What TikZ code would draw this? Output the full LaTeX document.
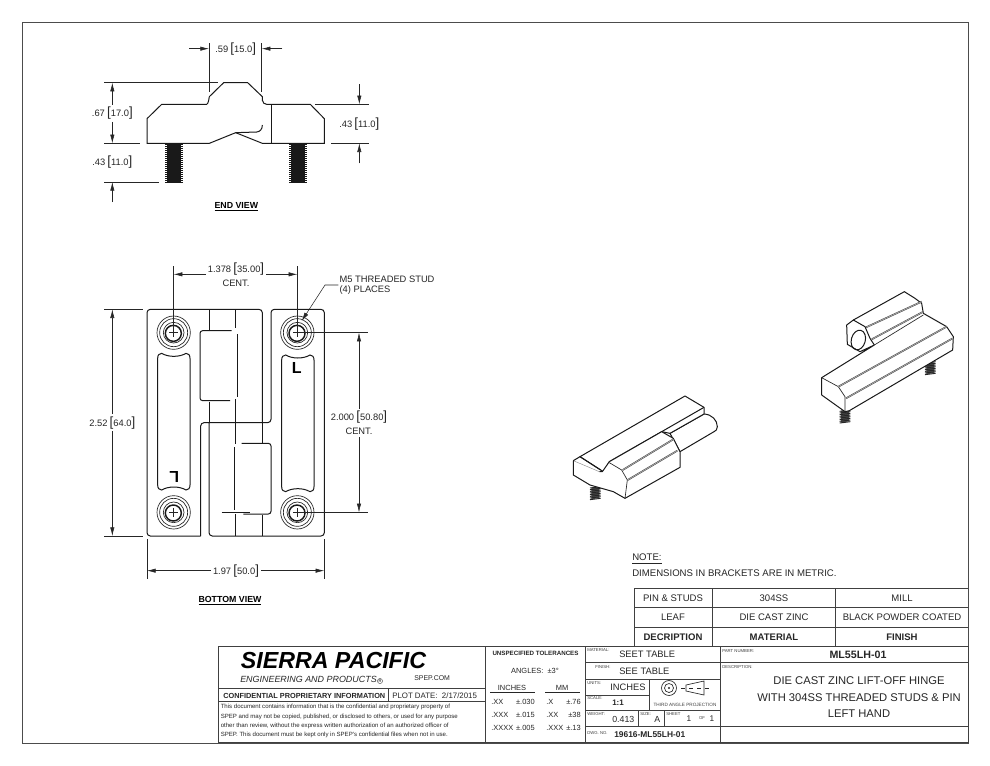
\documentclass[tikz,border=0pt]{standalone}
\usepackage{fontspec}
\setmainfont{Liberation Sans}
\usetikzlibrary{arrows.meta}
\newcommand{\dimlab}[2]{#1{\fontsize{10}{10}\selectfont\,[}#2{\fontsize{10}{10}\selectfont]}}
\newcommand{\fs}[1]{\fontsize{#1}{#1}\selectfont}
\tikzset{
    partline/.style={line width=0.75pt,black!90},
    thinpart/.style={line width=0.5pt,black!85},
    ridge/.style={line width=0.35pt,black!75,double=black!30,double distance=0.5pt},
    extline/.style={line width=0.4pt,black!85},
    dimarrow/.style={line width=0.4pt,black!85,-{Latex[length=6.5pt,width=3.2pt]}},
    dimtext/.style={font=\fs{7},inner sep=1.5pt,align=center,text=black!85},
    viewtitle/.style={font=\fs{6.6}\bfseries,inner sep=0pt},
    titleline/.style={line width=0.55pt,black!75},
    cell/.style={font=\fs{7.15},inner sep=0pt,text=black!85},
    cellbold/.style={cell,font=\fs{7.15}\bfseries},
    tiny/.style={font=\fs{3.2},inner sep=0pt,text=black!75},
    threads/.pic={
        \fill[black!90] (-22,0) rectangle (22,118);
        \foreach \t in {0,6,...,114}
            \draw[line width=0.75pt,black!90] (-26,\t+3) -- (26,\t+3);
    },
    smallthreads/.pic={
        \fill[black!70] (-12,0) -- (12,0) -- (12,32) -- (-12,36) -- cycle;
        \foreach \t in {0,5,...,35}
            \draw[line width=0.7pt,black!85] (-16,\t+2) -- (16,\t-2);
    },
    studend/.pic={
        \draw[thinpart] (0,0) circle [radius=50];
        \draw[thinpart] (0,0) circle [radius=42];
        \draw[thinpart] (0,0) circle [radius=31];
        \draw[line width=1.1pt,black!90] (-1,2) circle [radius=24];
        \draw[extline] (-13,0) -- (13,0) (0,-13) -- (0,13);
    },
    slotcut/.pic={
        \draw[partline] (0,15) .. controls (0,5) and (5,0) .. (12,0)
            .. controls (32,12) and (65,12) .. (85,0)
            .. controls (92,0) and (97,5) .. (97,15) -- (97,395)
            .. controls (97,405) and (92,410) .. (85,410)
            .. controls (65,398) and (32,398) .. (12,410)
            .. controls (5,410) and (0,405) .. (0,395) -- cycle;
    }
}
\begin{document}
\begin{tikzpicture}[x=0.75pt,y=-0.75pt]
    \useasboundingbox (0,0) rectangle (990,765);
    \fill[white] (0,0) rectangle (990,765);
    \draw[line width=0.6pt,black!70] (22,22) rectangle (968,743);

    % end view
    \begin{scope}[shift={(80,30)},x=0.25pt,y=-0.25pt]
        \pic at (282,340) {threads};
        \pic at (654,340) {threads};
        \draw[partline,fill=white] (201,340) -- (201,266) -- (245,223) -- (380,223)
            .. controls (386,220) and (386,208) .. (388,200)
            -- (431,158) -- (503,158) -- (547,200) -- (547,285)
            .. controls (547,298) and (540,305) .. (530,306)
            -- (467,308) -- (388,340) -- cycle;
        \draw[partline,fill=white] (467,308) -- (547,340) -- (733,340) -- (733,266)
            -- (691,223) -- (560,223) .. controls (552,223) and (549,218) .. (547,210);
        \draw[partline] (573,223) -- (573,340);
        \draw[partline] (547,285) .. controls (547,298) and (540,305) .. (530,306) -- (467,308);

        \node[dimtext] (dimTop) at (467,56) {\dimlab{.59}{15.0}};
        \node[dimtext] (dimHigh) at (97,250) {\dimlab{.67}{17.0}};
        \node[dimtext] (dimStudL) at (97,397) {\dimlab{.43}{11.0}};
        \node[dimtext] (dimLow) at (838,283) {\dimlab{.43}{11.0}};
        \node[viewtitle] (endTitle) at (469,531) {\underline{END VIEW}};

        \draw[extline] (387,40) -- (387,185);
        \draw[extline] (545,40) -- (545,185);
        \draw[dimarrow] (328,56) -- (387,56);
        \draw[dimarrow] (607,56) -- (545,56);
        \draw[extline] (72,158) -- (413,158);
        \draw[extline] (72,340) -- (181,340);
        \draw[dimarrow] (dimHigh.north) -- (97,158);
        \draw[dimarrow] (dimHigh.south) -- (97,340);
        \draw[extline] (72,456) -- (237,456);
        \draw[dimarrow] (97,516) -- (97,456);
        \draw[extline] (706,223) -- (868,223);
        \draw[extline] (753,340) -- (868,340);
        \draw[dimarrow] (838,163) -- (838,223);
        \draw[dimarrow] (838,400) -- (838,340);
    \end{scope}

    % bottom view
    \begin{scope}[shift={(80,260)},x=0.25pt,y=-0.25pt]
        \draw[partline,rounded corners=2.5pt] (362,828) -- (201,828) -- (201,148) -- (547,148) -- (547,490);
        \draw[partline,rounded corners=2.5pt] (362,828) -- (362,488) -- (573,488) -- (573,148) -- (733,148)
            -- (733,828) -- (387,828) -- (387,488);
        \draw[partline] (387,148) -- (387,210);
        \draw[partline] (387,425) -- (387,488);
        \draw[partline] (467,148) -- (467,205);
        \draw[partline] (467,418) -- (467,552);
        \draw[partline] (547,490) -- (547,550);
        \draw[partline] (547,765) -- (547,828);
        \draw[partline] (467,762) -- (467,828);
        % upper pocket
        \draw[partline,rounded corners=2pt] (455,212) -- (360,212) -- (360,422) -- (450,422);
        \draw[partline] (472,222) -- (472,410);
        % lower pocket
        \draw[partline,rounded corners=2pt] (485,550) -- (573,550) -- (573,762) -- (490,762);
        \draw[partline] (425,758) -- (510,758);
        \draw[partline] (462,562) -- (462,750);

        \pic at (281,218) {studend};
        \pic at (652,218) {studend};
        \pic at (281,757) {studend};
        \pic at (652,757) {studend};
        \pic at (233,280) {slotcut};
        \pic at (605,285) {slotcut};

        \node[font=\fs{12}\bfseries,inner sep=0pt] (markR) at (650,323) {L};
        \node[font=\fs{12}\bfseries,inner sep=0pt,rotate=180] (markL) at (283,652) {L};

        \node[dimtext] (dimCentA) at (468,28) {\dimlab{1.378}{35.00}};
        \node[dimtext,anchor=north] (centA) at (468,52) {CENT.};
        \node[dimtext] (dimCentB) at (837,472) {\dimlab{2.000}{50.80}};
        \node[dimtext,anchor=north] (centB) at (837,497) {CENT.};
        \node[dimtext] (dimTall) at (97,488) {\dimlab{2.52}{64.0}};
        \node[dimtext] (dimWide) at (468,932) {\dimlab{1.97}{50.0}};
        \node[dimtext,anchor=west,align=left,inner sep=0pt] (studA) at (778,59) {M5 THREADED STUD};
        \node[dimtext,anchor=west,align=left,inner sep=0pt] (studB) at (778,91) {(4) PLACES};
        \node[viewtitle] (bottomTitle) at (450,1022) {\underline{BOTTOM VIEW}};
        \coordinate (studTip) at (665,183);

        \draw[extline] (281,18) -- (281,205);
        \draw[extline] (652,18) -- (652,205);
        \draw[dimarrow] (dimCentA.west |- 0,43) -- (281,43);
        \draw[dimarrow] (dimCentA.east |- 0,43) -- (652,43);
        \draw[dimarrow] (775,75) -- (735,75) -- (studTip);
        \draw[extline] (665,218) -- (865,218);
        \draw[extline] (665,757) -- (865,757);
        \draw[dimarrow] (dimCentB.north -| 837,440) -- (837,218);
        \draw[dimarrow] (centB.south) -- (837,757);
        \draw[extline] (72,148) -- (190,148);
        \draw[extline] (72,828) -- (190,828);
        \draw[dimarrow] (dimTall.north) -- (97,148);
        \draw[dimarrow] (dimTall.south) -- (97,828);
        \draw[extline] (201,838) -- (201,958);
        \draw[extline] (733,838) -- (733,958);
        \draw[dimarrow] (dimWide.west) -- (201,932);
        \draw[dimarrow] (dimWide.east) -- (733,932);
    \end{scope}

    % left hinge leaf, iso view
    \begin{scope}[shift={(560,380)},x=0.25pt,y=-0.25pt]
        \pic at (106,322) {smallthreads};
        \draw[partline,fill=white,line join=round] (432,102) .. controls (455,103) and (472,120) .. (472,140)
            .. controls (472,148) and (468,153) .. (462,155) -- (360,215) -- (330,160) -- cycle;
        \draw[partline,fill=white,line join=round] (60,230) -- (375,48) -- (432,82) -- (432,102) -- (330,160)
            -- (305,155) -- (148,245) -- (130,275) -- cycle;
        \draw[partline,fill=white,line join=round] (40,242) -- (40,285) -- (90,315) -- (160,335) -- (195,355)
            -- (360,262) -- (360,215) -- (340,175) -- (305,155) -- (148,245) -- (127,275) -- (118,275);
        \draw[line width=0.35pt,black!45] (118,275) -- (40,242);
        \draw[partline] (40,242) -- (60,230) -- (122,270);
        \draw[partline] (305,155) -- (432,82);
        \draw[thinpart] (148,248) -- (185,270) -- (202,300) -- (195,355);
        \draw[ridge] (188,270) -- (340,178);
        \draw[ridge] (203,300) -- (352,212);
    \end{scope}

    % right hinge leaf, iso view
    \begin{scope}[shift={(810,280)},x=0.25pt,y=-0.25pt]
        \pic at (105,392) {smallthreads};
        \pic at (361,247) {smallthreads};
        \draw[partline,fill=white,line join=round] (35,293) -- (35,345) -- (105,395) -- (118,392) -- (428,210)
            -- (430,170) -- (410,140) -- (340,100) -- (335,70) -- (315,55) -- (283,35) -- (130,120) -- (110,135)
            -- (112,193) -- (150,215) -- (193,195) -- cycle;
        \draw[partline] (130,120) -- (165,140) -- (180,175) -- (193,195);
        \draw[partline,rotate around={-15:(145,180)}] (145,180) ellipse [x radius=21,y radius=30];
        \draw[thinpart] (35,293) -- (85,320) -- (105,350) -- (105,395);
        \draw[thinpart] (193,195) -- (340,105);
        \draw[ridge] (85,320) -- (410,140);
        \draw[ridge] (108,355) -- (428,175);
        \draw[ridge] (168,142) -- (335,65);
        \draw[ridge] (185,178) -- (340,95);
    \end{scope}

    % note
    \node[cell,font=\fs{7.2},anchor=west] (noteHead) at (632,559) {\underline{NOTE:}};
    \node[cell,font=\fs{7.2},anchor=west] (noteBody) at (632,573) {DIMENSIONS IN BRACKETS ARE IN METRIC.};

    % material table
    \draw[titleline] (634,588.5) -- (968,588.5) (634,607.5) -- (968,607.5) (634,627.5) -- (968,627.5);
    \draw[titleline] (634,588.5) -- (634,646.5) (712.7,588.5) -- (712.7,646.5) (835.7,588.5) -- (835.7,646.5);
    \node[cell] (rowA1) at (673,598) {PIN \& STUDS};
    \node[cell] (rowA2) at (774,598) {304SS};
    \node[cell] (rowA3) at (902,598) {MILL};
    \node[cell] (rowB1) at (673,617.5) {LEAF};
    \node[cell] (rowB2) at (774,617.5) {DIE CAST ZINC};
    \node[cell] (rowB3) at (902,617.5) {BLACK POWDER COATED};
    \node[cellbold] (rowC1) at (673,637) {DECRIPTION};
    \node[cellbold] (rowC2) at (774,637) {MATERIAL};
    \node[cellbold] (rowC3) at (902,637) {FINISH};

    % title block
    \draw[titleline] (218,646.5) rectangle (968,742.5);
    \draw[titleline] (218,688.5) -- (485,688.5) (218,701.5) -- (485,701.5) (388,688.5) -- (388,701.5);
    \draw[titleline] (485,646.5) -- (485,742.5) (585,646.5) -- (585,742.5) (720,646.5) -- (720,742.5);
    \draw[titleline] (585,662.7) -- (968,662.7) (585,679.3) -- (720,679.3) (585,695) -- (649,695);
    \draw[titleline] (585,710) -- (720,710) (585,726.5) -- (968,726.5);
    \draw[titleline] (649,679.3) -- (649,710) (638.5,710) -- (638.5,726.5) (664.5,710) -- (664.5,726.5);

    \node[font=\fs{17.4}\bfseries\itshape,inner sep=0pt] (company) at (333.5,661) {SIERRA PACIFIC};
    \node[font=\fs{6.7}\itshape,inner sep=0pt,anchor=west,text=black!85] (companySub) at (240,679) {ENGINEERING AND PRODUCTS};
    \node[font=\fs{3},draw=black!70,circle,inner sep=0.3pt,line width=0.3pt] (regMark) at (380,681) {R};
    \node[cell,font=\fs{5.2},anchor=west] (website) at (414,678.5) {SPEP.COM};
    \node[cellbold,font=\fs{5.5}\bfseries,anchor=west] (confHead) at (223,695.5) {CONFIDENTIAL PROPRIETARY INFORMATION};
    \node[cell,font=\fontsize{4.55}{7}\selectfont,anchor=north west,align=left,inner sep=0pt] (confBody) at (220.5,704) {This document contains information that is the confidential and proprietary property of\\SPEP and may not be copied, published, or disclosed to others, or used for any purpose\\other than review, without the express written authorization of an authorized officer of\\SPEP. This document must be kept only in SPEP's confidential files when not in use.};
    \node[cell,font=\fs{5.9},anchor=west] (plotDate) at (392,695.5) {PLOT DATE:\ \ 2/17/2015};

    \node[cellbold,font=\fs{4.65}\bfseries] (tolHead) at (535.5,653.5) {UNSPECIFIED TOLERANCES};
    \node[cell,font=\fs{5.6}] (tolAngle) at (535,670.5) {ANGLES:\ \ ±3°};
    \node[cell,font=\fs{5.6}] (tolIn) at (512,688) {INCHES};
    \node[cell,font=\fs{5.6}] (tolMm) at (562,688) {MM};
    \draw[extline] (490,692) -- (535,692) (545,692) -- (580,692);
    \foreach \rowy/\ina/\inb/\mma/\mmb [count=\i] in {701.5/.XX/±.030/.X/±.76,714.5/.XXX/±.015/.XX/±38,727.5/.XXXX/±.005/.XXX/±.13}{
        \node[cell,font=\fs{5.6},anchor=west] (tolA\i) at (491,\rowy) {\ina};
        \node[cell,font=\fs{5.6},anchor=east] (tolB\i) at (535,\rowy) {\inb};
        \node[cell,font=\fs{5.6},anchor=west] (tolC\i) at (546,\rowy) {\mma};
        \node[cell,font=\fs{5.6},anchor=east] (tolD\i) at (581,\rowy) {\mmb};
    }

    \node[tiny,anchor=west] (matLab) at (587,650.5) {MATERIAL:};
    \node[cell,font=\fs{7},anchor=west] (matVal) at (619,654.5) {SEET TABLE};
    \node[tiny,anchor=west] (finLab) at (595,667) {FINISH:};
    \node[cell,font=\fs{7},anchor=west] (finVal) at (619,671) {SEE TABLE};
    \node[tiny,anchor=west] (unitLab) at (587,683) {UNITS:};
    \node[cell,font=\fs{7},anchor=west] (unitVal) at (610,687.5) {INCHES};
    \node[tiny,anchor=west] (scaleLab) at (587,698) {SCALE:};
    \node[cellbold,font=\fs{6}\bfseries,anchor=west] (scaleVal) at (612,702.5) {1:1};
    \node[tiny,anchor=west] (weightLab) at (587,714) {WEIGHT:};
    \node[cell,anchor=west,font=\fs{6.6}] (weightVal) at (612,719) {0.413};
    \node[tiny,anchor=west] (sizeLab) at (640,714) {SIZE:};
    \node[cellbold,font=\fs{6.6},anchor=west] (sizeVal) at (654,719) {A};
    \node[tiny,anchor=west] (sheetLab) at (666,714) {SHEET};
    \node[cell,font=\fs{6.2}] (sheetVal) at (689,718.5) {1};
    \node[tiny] (sheetOf) at (702,718.5) {OF};
    \node[cell,font=\fs{6.2}] (sheetTot) at (712,718.5) {1};
    \node[tiny,anchor=west] (dwgLab) at (587,733) {DWG. NO.};
    \node[cellbold,font=\fs{6.3}\bfseries,anchor=west] (dwgVal) at (614,734.5) {19616-ML55LH-01};

    % projection symbol
    \draw[thinpart] (669,688) circle [radius=7.5];
    \draw[thinpart] (669,688) circle [radius=4.5];
    \fill[black!85] (669,688) circle [radius=1.2];
    \draw[thinpart] (686,685) -- (704,681) -- (704,695) -- (686,691) -- cycle;
    \draw[extline,dashed] (681,688) -- (709,688);
    \node[tiny,font=\fs{3.5}] (projLab) at (685,705) {THIRD ANGLE PROJECTION};

    \node[tiny,anchor=west] (partLab) at (722,651) {PART NUMBER:};
    \node[cellbold,font=\fs{8}\bfseries] (partVal) at (858,655) {ML55LH-01};
    \node[tiny,anchor=west] (descLab) at (722,667) {DESCRIPTION:};
    \node[cell,font=\fs{8.4}] (descA) at (859,681) {DIE CAST ZINC LIFT-OFF HINGE};
    \node[cell,font=\fs{8.4}] (descB) at (859,697.5) {WITH 304SS THREADED STUDS \& PIN};
    \node[cell,font=\fs{8.4}] (descC) at (859,714) {LEFT HAND};
\end{tikzpicture}
\end{document}
